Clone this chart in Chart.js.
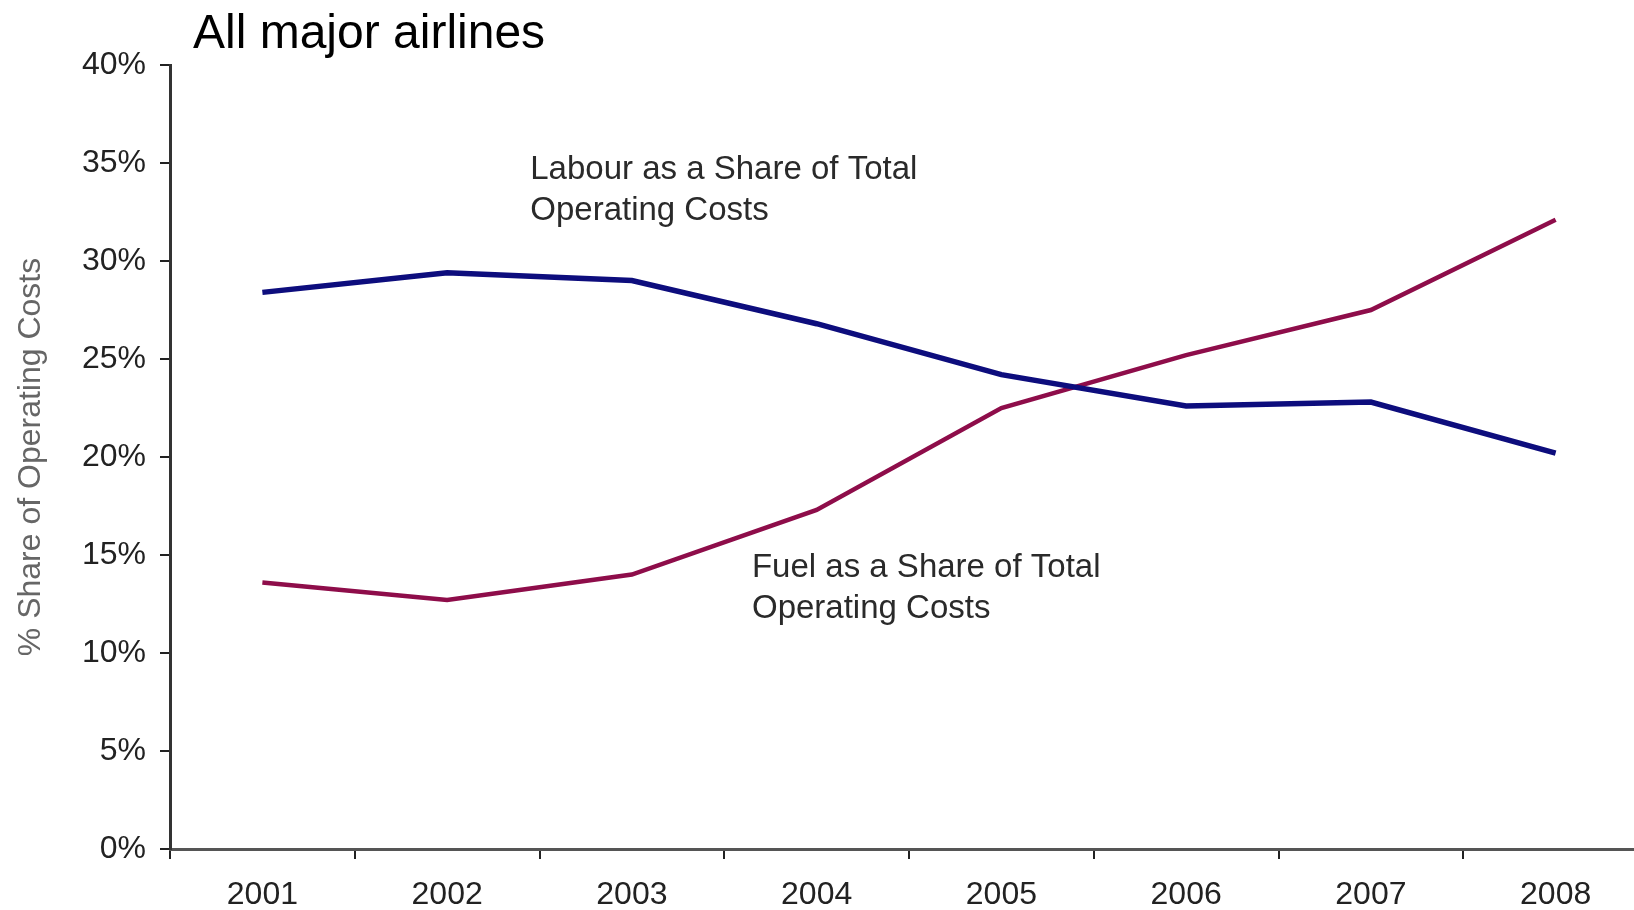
<!DOCTYPE html>
<html>
<head>
<meta charset="utf-8">
<script src="https://cdn.jsdelivr.net/npm/chart.js@4"></script>
<style>
  html, body { margin: 0; padding: 0; background: #fff; overflow: hidden; }
  #wrap { position: absolute; left: 0; top: 0; width: 1650px; height: 910px; }
</style>
</head>
<body>
<div id="wrap"><canvas id="chart"></canvas></div>
<script>
// data
const years = ["2001", "2002", "2003", "2004", "2005", "2006", "2007", "2008"];
const labourShare = [28.4, 29.4, 29.0, 26.8, 24.2, 22.6, 22.8, 20.2];
const fuelShare = [13.6, 12.7, 14.0, 17.3, 22.5, 25.2, 27.5, 32.1];
const yTicks = [0, 5, 10, 15, 20, 25, 30, 35, 40];

const textFont = "Liberation Sans, Arial, sans-serif";

// title + line labels drawn on the canvas
const notes = {
  id: "notes",
  afterDatasetsDraw(chart) {
    const c = chart.ctx;
    const x = chart.scales.x, y = chart.scales.y;
    c.save();
    c.fillStyle = "#000";
    c.font = "48px " + textFont;
    c.textBaseline = "alphabetic";
    c.fillText("All major airlines", 193, 48);

    c.fillStyle = "#2a2a2a";
    c.font = "33px " + textFont;
    c.textBaseline = "middle";
    let lx = x.getPixelForValue(1.45), ly = y.getPixelForValue(34.65);
    c.fillText("Labour as a Share of Total", lx, ly);
    c.fillText("Operating Costs", lx, ly + 41);
    lx = x.getPixelForValue(2.65); ly = y.getPixelForValue(14.35);
    c.fillText("Fuel as a Share of Total", lx, ly);
    c.fillText("Operating Costs", lx, ly + 41);
    c.restore();
  }
};

const ctx = document.getElementById("chart").getContext("2d");
const chart = new Chart(ctx, {
  type: "line",
  data: {
    labels: years,
    datasets: [{
      label: "Labour",
      data: labourShare,
      borderColor: "#0d0d7d",
      borderWidth: 5.5,
      pointRadius: 0,
      tension: 0
    }, {
      label: "Fuel",
      data: fuelShare,
      borderColor: "#8e0d4a",
      borderWidth: 4.5,
      pointRadius: 0,
      tension: 0
    }]
  },
  options: {
    responsive: true,
    maintainAspectRatio: false,
    animation: false,
    layout: { padding: { top: 65, right: 2, left: 0, bottom: 0 } },
    plugins: {
      legend: { display: false },
      tooltip: { enabled: false }
    },
    scales: {
      x: {
        offset: true,
        grid: { offset: true, drawOnChartArea: false, drawTicks: true, tickLength: 10, color: "#222", lineWidth: 2 },
        border: { color: "#555", width: 3 },
        ticks: { color: "#222", font: { family: textFont, size: 32 }, padding: 17, maxRotation: 0 },
        afterFit(scale) { scale.height = 61; }
      },
      y: {
        min: 0,
        max: 40,
        afterBuildTicks(scale) { scale.ticks = yTicks.map(v => ({ value: v })); },
        grid: { drawOnChartArea: false, drawTicks: true, tickLength: 10, color: "#222", lineWidth: 2 },
        border: { color: "#333", width: 3 },
        ticks: {
          color: "#222",
          font: { family: textFont, size: 32 },
          padding: 14,
          callback: v => v + "%"
        },
        title: {
          display: true,
          text: "% Share of Operating Costs",
          color: "#666",
          font: { family: textFont, size: 32 },
          padding: { top: 12, bottom: 0 }
        },
        afterFit(scale) { scale.width = 170; }
      }
    }
  },
  plugins: [notes]
});
</script>
</body>
</html>
